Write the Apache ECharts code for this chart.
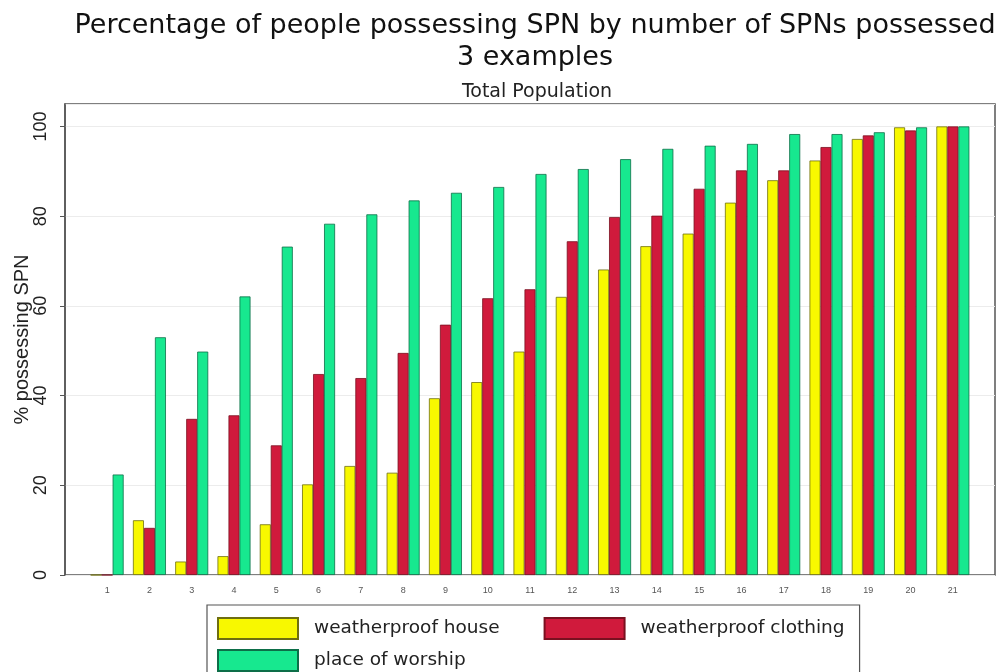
<!DOCTYPE html>
<html>
<head>
<meta charset="utf-8">
<script src="https://cdn.jsdelivr.net/npm/echarts@6/dist/echarts.min.js"></script>
<style>html,body{margin:0;padding:0;background:#fff;}#c{width:1000px;height:672px;}</style>
</head>
<body>
<div id="c"></div>
<script>
const categories = ['1','2','3','4','5','6','7','8','9','10','11','12','13','14','15','16','17','18','19','20','21'];
const house    = [0, 12.2, 3.0, 4.2, 11.3, 20.2, 24.3, 22.8, 39.4, 43.0, 49.8, 62.0, 68.1, 73.3, 76.1, 83.0, 88.0, 92.4, 97.2, 99.8, 100];
const clothing = [0, 10.5, 34.8, 35.6, 28.9, 44.8, 43.9, 49.5, 55.8, 61.7, 63.7, 74.4, 79.8, 80.1, 86.1, 90.2, 90.2, 95.4, 98.0, 99.1, 100];
const worship  = [22.4, 53.0, 49.8, 62.1, 73.2, 78.3, 80.4, 83.5, 85.2, 86.5, 89.4, 90.5, 92.7, 95.0, 95.7, 96.1, 98.3, 98.3, 98.7, 99.8, 100];
const seriesNames = ['weatherproof house', 'weatherproof clothing', 'place of worship'];

const FONT = 'Liberation Sans';
const WIDE = 'DejaVu Sans';
const legendText = { fontFamily: WIDE, fontSize: 18.5, color: '#222', padding: [0, 0, 0, 11] };
const chart = echarts.init(document.getElementById('c'));
chart.setOption({
  animation: false,
  textStyle: { fontFamily: FONT },
  title: [
    { text: 'Percentage of people possessing SPN by number of SPNs possessed\n3 examples',
      left: 530, top: 5, textAlign: 'center',
      textStyle: { fontFamily: WIDE, fontSize: 27, fontWeight: 'normal', color: '#111', lineHeight: 32 } },
    { text: 'Total Population', left: 532, top: 78, textAlign: 'center',
      textStyle: { fontFamily: WIDE, fontSize: 19, fontWeight: 'normal', color: '#222' } }
  ],
  grid: [
    { left: 86, right: 26, top: 104, bottom: 97, show: false, outerBoundsMode: 'none', containLabel: false },
    { left: 65, right: 5, top: 104, bottom: 97, show: true, borderColor: '#555', borderWidth: 1.5,
      backgroundColor: 'transparent', outerBoundsMode: 'none', containLabel: false }
  ],
  legend: [
    { left: 207, top: 605, orient: 'horizontal',
      padding: [12, 15, 60, 10],
      itemWidth: 80, itemHeight: 21, itemGap: 44,
      icon: 'rect',
      borderColor: '#555', borderWidth: 1.2,
      textStyle: legendText,
      data: [seriesNames[0], seriesNames[1]] },
    { left: 207, top: 638, orient: 'horizontal',
      padding: [11, 0, 0, 10],
      itemWidth: 80, itemHeight: 21,
      icon: 'rect',
      textStyle: legendText,
      data: [seriesNames[2]] }
  ],
  xAxis: [
    { type: 'category', gridIndex: 0, data: categories,
      axisLine: { show: false }, axisTick: { show: false },
      axisLabel: { fontFamily: FONT, fontSize: 9, color: '#555', margin: 11 } },
    { type: 'value', gridIndex: 1, show: false }
  ],
  yAxis: [
    { type: 'value', gridIndex: 0, min: 0, max: 105, interval: 20, show: false },
    { type: 'value', gridIndex: 1, min: 0, max: 105, interval: 20,
      name: '% possessing SPN', nameLocation: 'middle', nameGap: 33, nameMoveOverlap: false,
      nameTextStyle: { fontFamily: FONT, fontSize: 20, color: '#222' },
      axisLine: { show: true, lineStyle: { color: '#555', width: 1.5 } },
      axisTick: { show: true, length: 5, lineStyle: { color: '#555' } },
      axisLabel: { rotate: 90, fontFamily: FONT, fontSize: 18, color: '#222', margin: 15, showMaxLabel: false },
      splitLine: { show: true, lineStyle: { color: '#ececec', width: 1 } } }
  ],
  series: [
    { name: seriesNames[0], type: 'bar', xAxisIndex: 0, yAxisIndex: 0, data: house,
      barWidth: 11, barGap: '0%',
      itemStyle: { color: '#f8f800', borderColor: '#6e6e10', borderWidth: 0.8 } },
    { name: seriesNames[1], type: 'bar', xAxisIndex: 0, yAxisIndex: 0, data: clothing,
      barWidth: 11, barGap: '0%',
      itemStyle: { color: '#d01a3c', borderColor: '#7a1020', borderWidth: 0.8 } },
    { name: seriesNames[2], type: 'bar', xAxisIndex: 0, yAxisIndex: 0, data: worship,
      barWidth: 11, barGap: '0%',
      itemStyle: { color: '#17e88f', borderColor: '#0d6e48', borderWidth: 0.8 } }
  ]
});
</script>
</body>
</html>
